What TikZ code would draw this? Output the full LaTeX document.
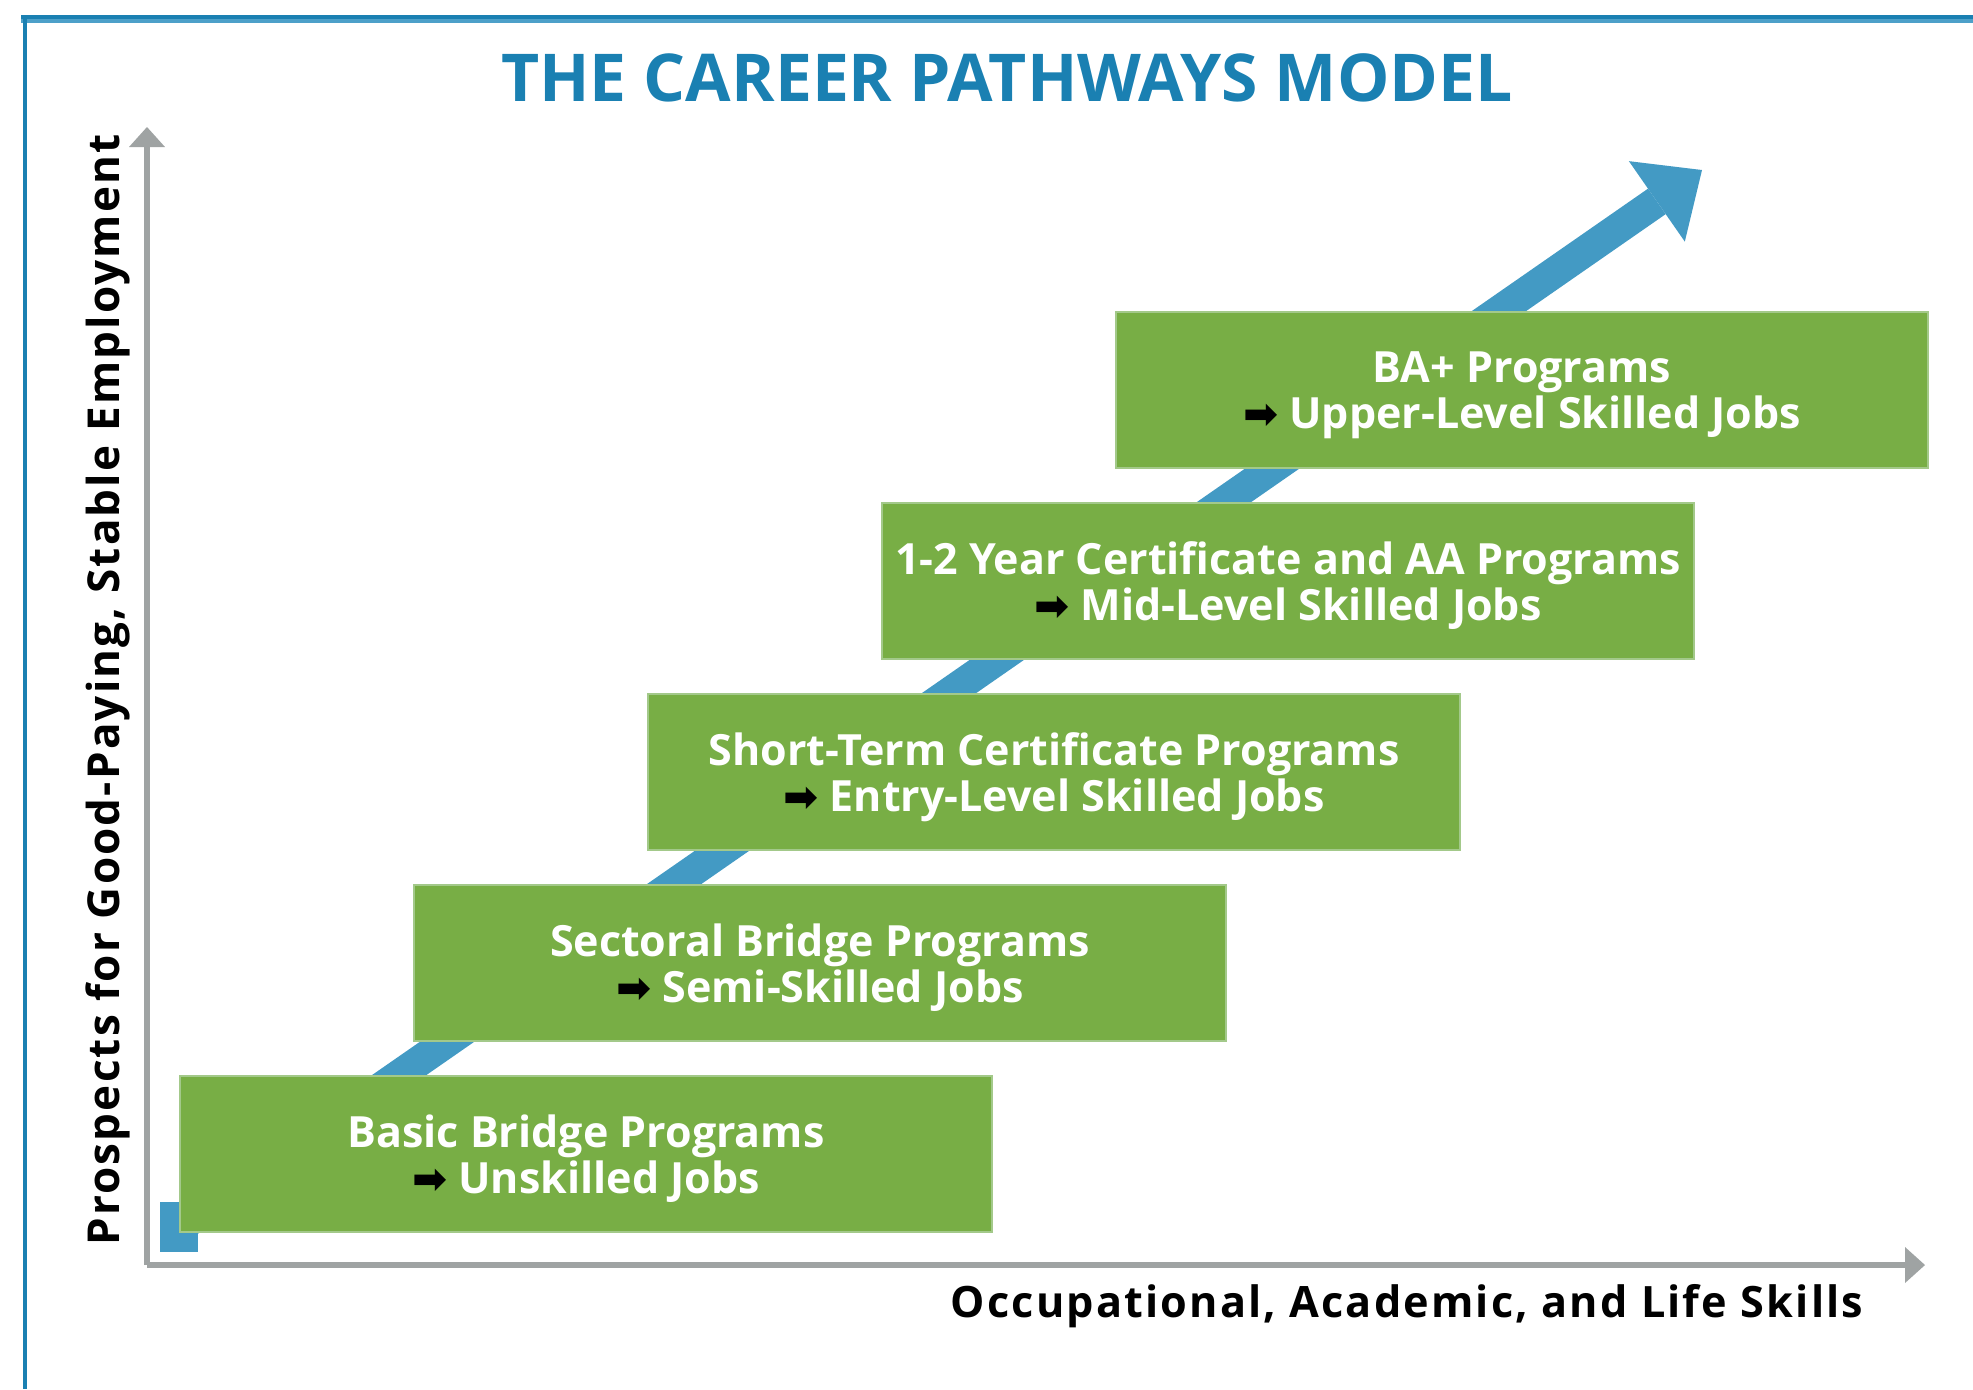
\documentclass[tikz,border=0pt]{standalone}
\usepackage{fontspec}
\setmainfont{Open Sans}
\newfontfamily\axisfont{Open Sans}[LetterSpace=5]
\newfontfamily\symfont{DejaVu Sans}
\usetikzlibrary{arrows.meta,positioning}
\definecolor{careerblue}{HTML}{1A80B2}
\definecolor{framelight}{HTML}{4DA0C9}
\definecolor{pathblue}{HTML}{439AC4}
\definecolor{stagegreen}{HTML}{78AE45}
\definecolor{stageedge}{HTML}{A3C98A}
\definecolor{axisgray}{HTML}{9FA3A3}
\newcommand\jobarrow{{\color{black}\symfont\fontsize{21pt}{21pt}\selectfont ➡}\ }

\begin{document}
\begin{tikzpicture}[x=0.5pt,y=-0.5pt,
  stage/.style={fill=stagegreen,draw=stageedge,line width=1pt,minimum width=406pt,minimum height=78pt,
    inner sep=0pt,text depth=0pt,text=white,align=center,font=\fontsize{21.5pt}{23pt}\selectfont\bfseries},
  axis/.style={draw=axisgray,line width=3pt,-{Triangle[length=10pt,width=18pt,line width=0pt]}},
  axislabel/.style={font=\axisfont\fontsize{22pt}{24pt}\selectfont\bfseries},
  pathway/.style={draw=pathblue,line width=15.5pt,-{Triangle[length=27.5pt,width=49pt,line width=0pt]}}]
\useasboundingbox (0,0) rectangle (1973,1389);

% frame
\fill[careerblue] (21,15) rectangle (1973,19);
\fill[framelight] (21,19) rectangle (1973,23);
\fill[careerblue] (23,15) rectangle (27,1389);

\node[font=\fontsize{33pt}{36pt}\selectfont\bfseries,text=careerblue,anchor=base] (title) at (1007,101) {THE CAREER PATHWAYS MODEL};

% axes
\coordinate (o) at (147,1265);
\coordinate (ytop) at (147,127);
\coordinate (xend) at (1925,1265);
\draw[axis] (o) -- (ytop);
\draw[axis] (o) -- (xend);
\node[axislabel,rotate=90,anchor=base] (ylab) at (119,690) {Prospects for Good-Paying, Stable Employment};
\node[axislabel,font=\axisfont\fontsize{21.6pt}{24pt}\selectfont\bfseries,anchor=base] (xlab) at (1407,1317) {Occupational, Academic, and Life Skills};

% rising arrow
\coordinate (tail) at (179,1228);
\coordinate (tip) at (1702,170);
\fill[pathblue] (160,1202) rectangle (198,1252);
\draw[pathway] (tail) -- (tip);

% stages
\node[stage] (basic) at (586,1154) {Basic Bridge Programs\\\jobarrow Unskilled Jobs};
\node[stage] (sector) at ([shift={(234,-191)}]basic.center) {Sectoral Bridge Programs\\\jobarrow Semi-Skilled Jobs};
\node[stage] (short) at ([shift={(234,-191)}]sector.center) {Short-Term Certificate Programs\\\jobarrow Entry-Level Skilled Jobs};
\node[stage] (cert) at ([shift={(234,-191)}]short.center) {1-2 Year Certificate and AA Programs\\\jobarrow Mid-Level Skilled Jobs};
\node[stage] (ba) at ([shift={(234,-191)}]cert.center) {BA+ Programs\\\jobarrow Upper-Level Skilled Jobs};
\end{tikzpicture}
\end{document}
